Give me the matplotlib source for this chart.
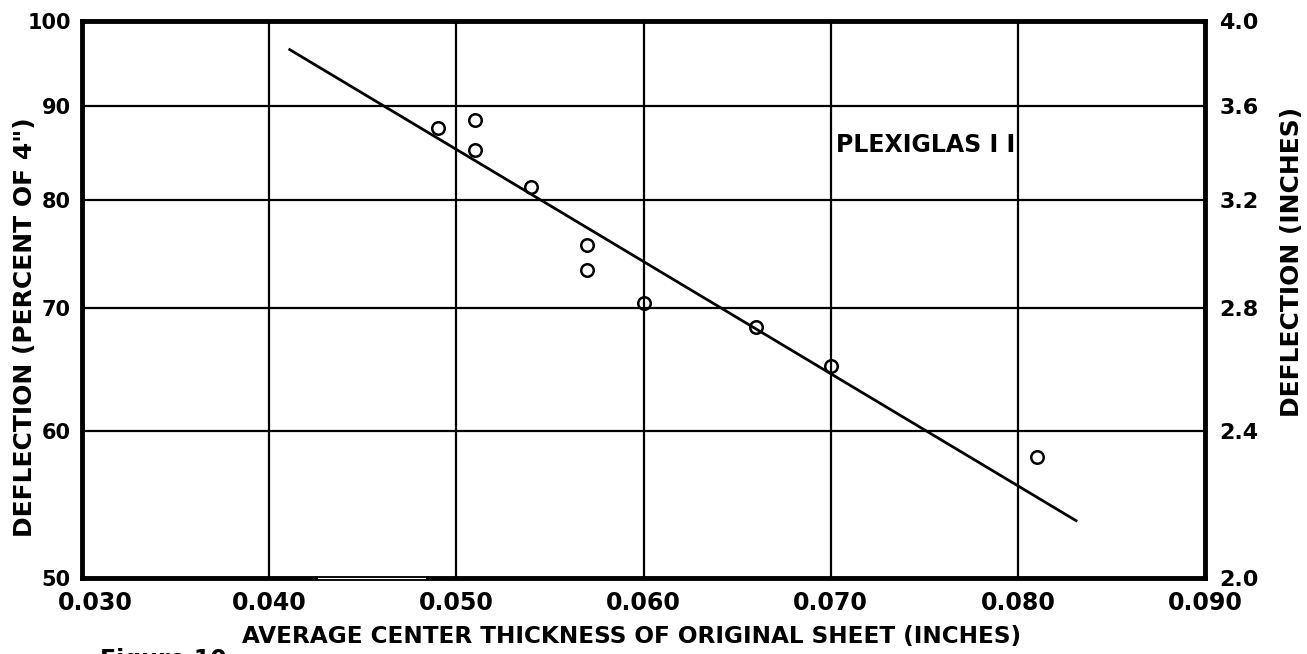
import matplotlib
matplotlib.use("Agg")
import matplotlib.pyplot as plt
from matplotlib.transforms import ScaledTranslation

# ---- data ----
thickness = [0.049, 0.051, 0.051, 0.054, 0.057, 0.057, 0.060, 0.066, 0.070, 0.081]
deflection_pct = [87.5, 88.4, 85.2, 81.3, 75.7, 73.4, 70.4, 68.3, 65.1, 58.1]
fit_x = [0.0411, 0.0831]
fit_y = [96.5, 53.7]

x_ticks = [0.030, 0.040, 0.050, 0.060, 0.070, 0.080, 0.090]
x_tick_labels = ["0.030", "0.040", "0.050", "0.060", "0.070", "0.080", "0.090"]
y_ticks = [50, 60, 70, 80, 90, 100]
y_tick_labels = ["50", "60", "70", "80", "90", "100"]
y2_ticks = [2.0, 2.4, 2.8, 3.2, 3.6, 4.0]
y2_tick_labels = ["2.0", "2.4", "2.8", "3.2", "3.6", "4.0"]

FONT = "DejaVu Sans"

fig = plt.figure(figsize=(13.07, 6.54), dpi=100)
ax = fig.add_axes([0.0627, 0.1162, 0.8594, 0.8517])

ax.set_yscale("log")
ax.set_xlim(0.030, 0.090)
ax.set_ylim(50, 100)

ax.set_xticks(x_ticks)
ax.set_xticklabels(x_tick_labels, fontfamily=FONT, fontweight="bold", fontsize=17)
ax.set_yticks(y_ticks)
ax.set_yticklabels(y_tick_labels, fontfamily=FONT, fontweight="bold", fontsize=15)
ax.yaxis.set_minor_locator(matplotlib.ticker.NullLocator())
ax.tick_params(axis="x", length=0, pad=9)
ax.tick_params(axis="y", length=0, pad=8)

# first x tick label sits a little to the right of the frame corner
first = ax.get_xticklabels()[0]
first.set_transform(first.get_transform() + ScaledTranslation(0.13, 0, fig.dpi_scale_trans))

ax.grid(True, which="major", color="black", linewidth=1.6)
ax.set_axisbelow(True)
for s in ax.spines.values():
    s.set_linewidth(3.5)
    s.set_color("black")

# scan artefact: a thin light gap in the bottom frame
ax.plot([0.0426, 0.0483], [50, 50], color="white", linewidth=0.8, clip_on=False, zorder=5)

ax.plot(fit_x, fit_y, color="black", linewidth=2.0, zorder=3)
ax.plot(thickness, deflection_pct, linestyle="none", marker="o", markersize=9,
        markerfacecolor="none", markeredgecolor="black", markeredgewidth=1.8, zorder=4)

ax.text(0.0703, 85.7, "PLEXIGLAS I I", fontfamily=FONT, fontweight="bold",
        fontsize=17, va="center", ha="left")

ax.set_xlabel("AVERAGE CENTER THICKNESS OF ORIGINAL SHEET (INCHES)",
              fontfamily=FONT, fontweight="bold", fontsize=16.7)
ax.xaxis.set_label_coords(0.489, -0.085)
ax.set_ylabel('DEFLECTION (PERCENT OF 4")', fontfamily=FONT, fontweight="bold", fontsize=18)
ax.yaxis.set_label_coords(-0.040, 0.45)

ax2 = ax.twinx()
ax2.set_yscale("log")
ax2.set_ylim(2.0, 4.0)
ax2.set_yticks(y2_ticks)
ax2.set_yticklabels(y2_tick_labels, fontfamily=FONT, fontweight="bold", fontsize=16)
ax2.yaxis.set_minor_locator(matplotlib.ticker.NullLocator())
ax2.tick_params(axis="y", length=0, pad=10)
for s in ax2.spines.values():
    s.set_visible(False)
ax2.set_ylabel("DEFLECTION (INCHES)", fontfamily=FONT, fontweight="bold", fontsize=18)
ax2.yaxis.set_label_coords(1.067, 0.567)

fig.text(100 / 1307, 1 - 648 / 654, "Figure 10", fontfamily=FONT, fontweight="bold",
         fontsize=17, ha="left", va="top")

fig.savefig("out.png", dpi=100)
